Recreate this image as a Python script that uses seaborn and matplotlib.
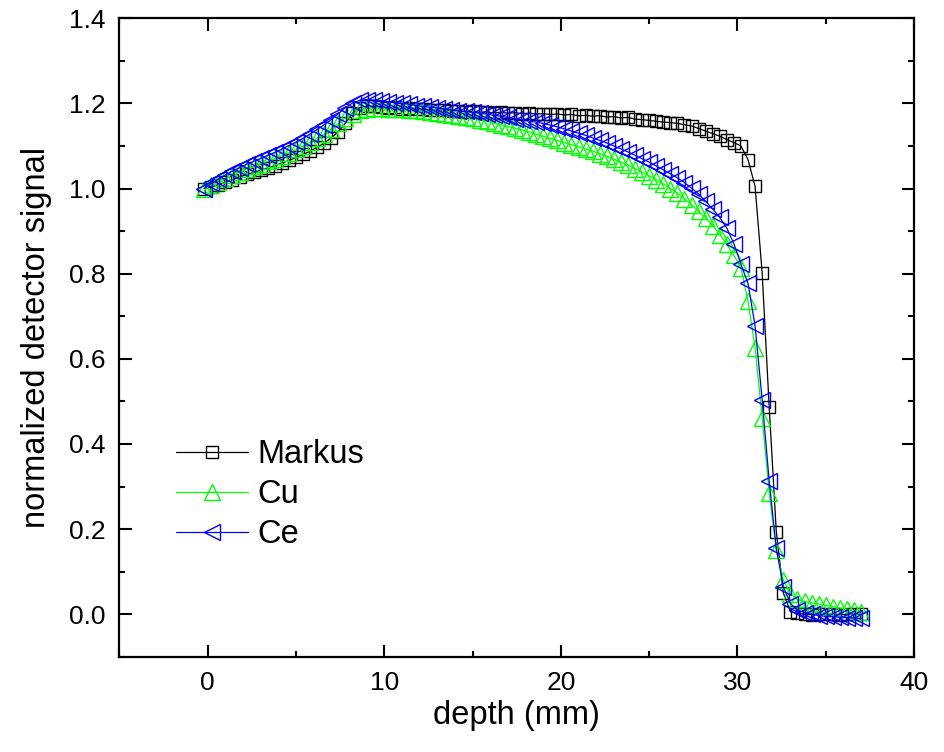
import matplotlib
matplotlib.use("Agg")
import matplotlib.pyplot as plt
import seaborn as sns
from matplotlib.ticker import MultipleLocator

depth = [-0.2, 0.2, 0.6, 1.0, 1.4, 1.8, 2.2, 2.6, 3.0, 3.4,
         3.8, 4.2, 4.6, 5.0, 5.4, 5.8, 6.2, 6.6, 7.0, 7.4,
         7.8, 8.2, 8.6, 9.0, 9.4, 9.8, 10.2, 10.6, 11.0, 11.4,
         11.8, 12.2, 12.6, 13.0, 13.4, 13.8, 14.2, 14.6, 15.0, 15.4,
         15.8, 16.2, 16.6, 17.0, 17.4, 17.8, 18.2, 18.6, 19.0, 19.4,
         19.8, 20.2, 20.6, 21.0, 21.4, 21.8, 22.2, 22.6, 23.0, 23.4,
         23.8, 24.2, 24.6, 25.0, 25.4, 25.8, 26.2, 26.6, 27.0, 27.4,
         27.8, 28.2, 28.6, 29.0, 29.4, 29.8, 30.2, 30.6, 31.0, 31.4,
         31.8, 32.2, 32.6, 33.0, 33.4, 33.8, 34.2, 34.6, 35.0, 35.4,
         35.8, 36.2, 36.6, 37.0]

markus = [1.000, 1.004, 1.009, 1.015, 1.021, 1.027, 1.033, 1.038, 1.043, 1.048,
          1.054, 1.060, 1.066, 1.073, 1.080, 1.088, 1.097, 1.107, 1.119, 1.134,
          1.154, 1.177, 1.190, 1.194, 1.193, 1.192, 1.190, 1.191, 1.188, 1.189,
          1.186, 1.187, 1.185, 1.184, 1.185, 1.182, 1.183, 1.180, 1.181, 1.179,
          1.180, 1.178, 1.179, 1.177, 1.178, 1.176, 1.177, 1.175, 1.176, 1.174,
          1.175, 1.173, 1.174, 1.171, 1.172, 1.170, 1.171, 1.168, 1.169, 1.166,
          1.167, 1.163, 1.162, 1.160, 1.158, 1.156, 1.155, 1.153, 1.150, 1.147,
          1.141, 1.135, 1.129, 1.123, 1.115, 1.108, 1.100, 1.068, 1.005, 0.802,
          0.486, 0.194, 0.050, 0.006, 0.002, 0.000, -0.001, 0.001, 0.000, 0.001,
          -0.001, 0.000, 0.001, 0.000]

cu = [1.000, 1.008, 1.016, 1.024, 1.032, 1.039, 1.046, 1.052, 1.058, 1.064,
      1.070, 1.077, 1.084, 1.092, 1.100, 1.109, 1.118, 1.128, 1.140, 1.153,
      1.166, 1.176, 1.184, 1.188, 1.189, 1.189, 1.188, 1.187, 1.186, 1.185,
      1.184, 1.182, 1.180, 1.178, 1.176, 1.173, 1.171, 1.168, 1.165, 1.161,
      1.158, 1.154, 1.150, 1.146, 1.142, 1.138, 1.133, 1.128, 1.123, 1.118,
      1.113, 1.108, 1.103, 1.098, 1.093, 1.088, 1.082, 1.076, 1.069, 1.062,
      1.055, 1.047, 1.039, 1.030, 1.021, 1.011, 1.000, 0.989, 0.976, 0.962,
      0.947, 0.931, 0.913, 0.892, 0.869, 0.843, 0.814, 0.735, 0.626, 0.462,
      0.285, 0.150, 0.080, 0.048, 0.035, 0.030, 0.027, 0.024, 0.021, 0.018,
      0.015, 0.012, 0.009, 0.006]

ce = [1.000, 1.012, 1.022, 1.032, 1.041, 1.049, 1.057, 1.064, 1.071, 1.078,
      1.085, 1.093, 1.101, 1.109, 1.118, 1.128, 1.139, 1.150, 1.162, 1.176,
      1.190, 1.201, 1.207, 1.209, 1.208, 1.206, 1.204, 1.202, 1.200, 1.198,
      1.195, 1.193, 1.191, 1.189, 1.187, 1.185, 1.183, 1.181, 1.179, 1.177,
      1.175, 1.172, 1.170, 1.167, 1.164, 1.161, 1.158, 1.156, 1.153, 1.149,
      1.145, 1.140, 1.135, 1.130, 1.125, 1.119, 1.113, 1.107, 1.100, 1.093,
      1.086, 1.078, 1.070, 1.062, 1.053, 1.044, 1.035, 1.025, 1.014, 1.001,
      0.987, 0.970, 0.952, 0.932, 0.907, 0.870, 0.822, 0.777, 0.677, 0.504,
      0.312, 0.155, 0.065, 0.025, 0.010, 0.004, 0.000, -0.003, -0.005, -0.006,
      -0.007, -0.008, -0.009, -0.010]

series_names = ["Markus", "Cu", "Ce"]
x_ticks = [0, 10, 20, 30, 40]
y_ticks = [0.0, 0.2, 0.4, 0.6, 0.8, 1.0, 1.2, 1.4]

sns.set_style("ticks")
plt.rcParams["font.family"] = ["Liberation Sans", "DejaVu Sans"]
plt.rcParams["text.color"] = "black"
plt.rcParams["axes.labelcolor"] = "black"
plt.rcParams["xtick.color"] = "black"
plt.rcParams["ytick.color"] = "black"

fig = plt.figure(figsize=(9.45, 7.52), dpi=100)
ax = fig.add_axes([0.1264, 0.1266, 0.8408, 0.8491])

styles = [
    (markus, "#000000", "s", 9.0),
    (cu, "#00ff00", "^", 12.0),
    (ce, "#0000ff", "<", 12.0),
]
for name, (vals, col, mk, ms) in zip(series_names, styles):
    sns.lineplot(x=depth, y=vals, ax=ax, color=col, linewidth=0.9,
                 marker=mk, markersize=ms, markerfacecolor="none",
                 markeredgecolor=col, markeredgewidth=1.0, label=name,
                 sort=False)

ax.set_xlim(-5, 40)
ax.set_ylim(-0.1, 1.4)
ax.set_xticks(x_ticks)
ax.set_yticks(y_ticks)
ax.set_xticklabels([str(v) for v in x_ticks])
ax.set_yticklabels([f"{v:.1f}" for v in y_ticks])
ax.xaxis.set_minor_locator(MultipleLocator(5))
ax.yaxis.set_minor_locator(MultipleLocator(0.1))

for sp in ax.spines.values():
    sp.set_visible(True)
    sp.set_linewidth(1.6)
    sp.set_color("black")

ax.tick_params(which="both", direction="in", top=True, right=True,
               color="black", labelcolor="black", width=1.5)
ax.tick_params(which="major", length=9, labelsize=19, pad=10)
ax.tick_params(which="minor", length=4.5)

ax.set_xlabel("depth (mm)", fontsize=23.5, labelpad=4, color="black")
ax.set_ylabel("normalized detector signal", fontsize=23.5, labelpad=12,
              color="black")

leg = ax.legend(loc="upper left", bbox_to_anchor=(0.071, 0.341), frameon=False,
                fontsize=23.5, handlelength=2.2, handletextpad=0.3,
                labelspacing=0.28, borderpad=0, borderaxespad=0, numpoints=1)
for t in leg.get_texts():
    t.set_color("black")

fig.savefig("out.png", dpi=100, facecolor="white")
